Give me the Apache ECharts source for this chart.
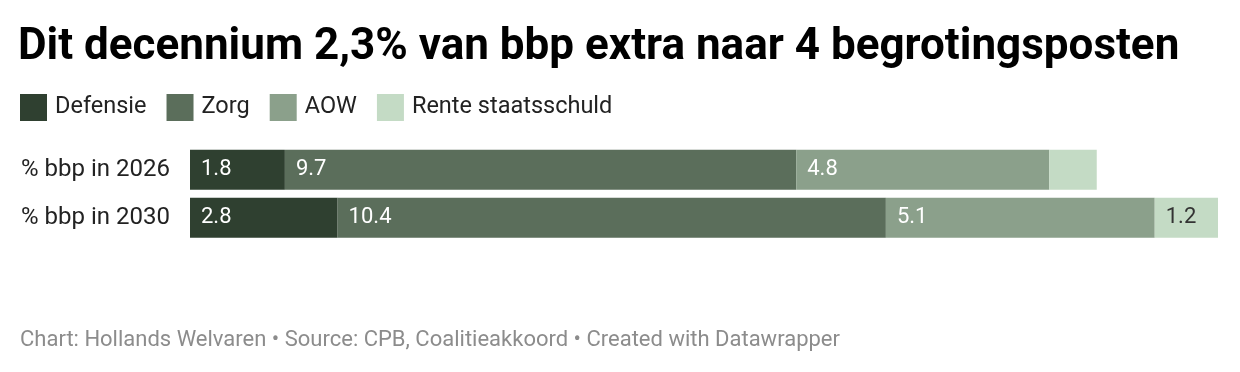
<!DOCTYPE html>
<html><head><meta charset="utf-8">
<script src="https://cdn.jsdelivr.net/npm/echarts@6/dist/echarts.min.js"></script>
<style>html,body{margin:0;padding:0;background:#fff}#c{width:1240px;height:372px}</style>
</head><body><div id="c"></div>
<script>
const categories = ['% bbp in 2026', '% bbp in 2030'];
const seriesNames = ['Defensie', 'Zorg', 'AOW', 'Rente staatsschuld'];
const defensie = [1.8, 2.8];
const zorg = [9.7, 10.4];
const aow = [4.8, 5.1];
const rente = [0.9, 1.2];
const renteLabelShown = [false, true];

const colors = ['#2f4030', '#5b6e5b', '#8ba08b', '#c4dbc5'];
const labelColors = ['#ffffff', '#ffffff', '#ffffff', '#333333'];
const values = [defensie, zorg, aow, rente];
const totals = categories.map((_, i) => values.reduce((s, v) => s + v[i], 0));
const maxTotal = Math.max(...totals);

const chart = echarts.init(document.getElementById('c'), null, {renderer: 'canvas'});
const font = 'Roboto, sans-serif';
chart.setOption({
  animation: false,
  title: {
    text: 'Dit decennium 2,3% van bbp extra naar 4 begrotingsposten',
    left: 18, top: 26, padding: 0,
    textStyle: {fontFamily: font, fontWeight: 'bold', fontSize: 44, color: '#000'}
  },
  legend: {
    left: 20, top: 94, padding: 0,
    itemWidth: 27, itemHeight: 27, itemGap: 20,
    icon: 'rect',
    data: seriesNames,
    selectedMode: false,
    textStyle: {fontFamily: font, fontSize: 23.5, color: '#222', padding: [6, 0, 0, 3]}
  },
  grid: {left: 190, right: 22, top: 145.75, height: 96},
  xAxis: {type: 'value', min: 0, max: maxTotal, show: false},
  yAxis: {
    type: 'category', data: categories, inverse: true,
    axisLine: {show: false}, axisTick: {show: false},
    axisLabel: {fontFamily: font, fontSize: 24, color: '#222', margin: 20}
  },
  series: values.map((arr, si) => ({
    name: seriesNames[si],
    type: 'bar', stack: 'a', barWidth: 40,
    itemStyle: {color: colors[si]},
    label: {
      show: true, position: 'insideLeft', distance: 11,
      fontFamily: font, fontSize: 22, color: labelColors[si],
      formatter: p => (si === 3 && !renteLabelShown[p.dataIndex]) ? '' : p.value.toFixed(1)
    },
    data: arr
  })),
  graphic: [{
    type: 'text', left: 20, top: 329,
    style: {
      text: 'Chart: Hollands Welvaren \u2022 Source: CPB, Coalitieakkoord \u2022 Created with Datawrapper',
      fontFamily: font, fontSize: 22, fill: '#8c8c8c'
    }
  }]
});
</script></body></html>
